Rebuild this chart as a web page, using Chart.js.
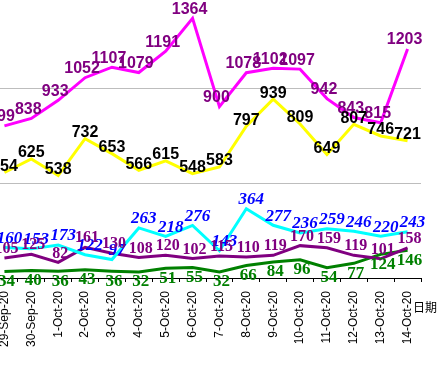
<!DOCTYPE html>
<html>
<head>
<meta charset="utf-8">
<script src="https://cdn.jsdelivr.net/npm/chart.js"></script>
<style>
  html, body { margin: 0; padding: 0; background: #fff; width: 445px; height: 366px; overflow: hidden; }
  #box { position: absolute; left: -9px; top: 0; width: 454px; height: 366px; }
</style>
</head>
<body>
<div id="box"><canvas id="myChart"></canvas></div>
<script>
const dates = ['29-Sep-20', '30-Sep-20', '1-Oct-20', '2-Oct-20', '3-Oct-20', '4-Oct-20', '5-Oct-20', '6-Oct-20',
  '7-Oct-20', '8-Oct-20', '9-Oct-20', '10-Oct-20', '11-Oct-20', '12-Oct-20', '13-Oct-20', '14-Oct-20'];
const pinkVals = [799, 838, 933, 1052, 1107, 1079, 1191, 1364, 900, 1078, 1102, 1097, 942, 843, 815, 1203];
const yellowVals = [554, 625, 538, 732, 653, 566, 615, 548, 583, 797, 939, 809, 649, 807, 746, 721];
const cyanVals = [160, 153, 173, 122, 97, 263, 218, 276, 143, 364, 277, 236, 259, 246, 220, 243];
const purpleVals = [105, 125, 82, 161, 130, 108, 120, 102, 115, 110, 119, 170, 159, 119, 101, 158];
const greenVals = [34, 40, 36, 43, 36, 32, 51, 55, 32, 66, 84, 96, 54, 77, 124, 146];
const gridValues = [500, 1000];
const axisTitle = '日期';

// horizontal gray lines at 500 / 1000
const hGrid = {
  id: 'hGrid',
  beforeDatasetsDraw(chart) {
    const ctx = chart.ctx;
    const a = chart.chartArea;
    const y = chart.scales.y;
    ctx.save();
    ctx.strokeStyle = '#bdbdbd';
    ctx.lineWidth = 1;
    gridValues.forEach(v => {
      const py = Math.round(y.getPixelForValue(v)) + 0.5;
      ctx.beginPath();
      ctx.moveTo(a.left, py);
      ctx.lineTo(a.right, py);
      ctx.stroke();
    });
    ctx.restore();
  }
};

// draws the number next to every point
const valueLabels = {
  id: 'valueLabels',
  afterDatasetsDraw(chart) {
    const ctx = chart.ctx;
    chart.data.datasets.forEach((ds, i) => {
      const meta = chart.getDatasetMeta(i);
      ctx.save();
      ctx.font = ds.labelFont;
      ctx.fillStyle = ds.labelColor;
      ctx.textAlign = 'center';
      ctx.textBaseline = 'middle';
      meta.data.forEach((pt, j) => {
        ctx.fillText(ds.data[j], pt.x + ds.labelDx, pt.y + ds.labelDy);
      });
      ctx.restore();
    });
  }
};

const sideTitle = {
  id: 'sideTitle',
  afterDraw(chart) {
    const ctx = chart.ctx;
    const a = chart.chartArea;
    ctx.save();
    ctx.font = '12px "Liberation Sans", "Noto Sans CJK SC"';
    ctx.fillStyle = '#000';
    ctx.textAlign = 'center';
    ctx.textBaseline = 'middle';
    ctx.fillText(axisTitle, a.right + 4, a.bottom + 31);
    ctx.restore();
  }
};

const ctx = document.getElementById('myChart');

new Chart(ctx, {
  type: 'line',
  data: {
    labels: dates,
    datasets: [
      {
        label: 'pink',
        data: pinkVals,
        borderColor: '#ff00ff',
        borderWidth: 3,
        labelFont: 'bold 16px "Liberation Sans"',
        labelColor: '#800080',
        labelDx: -3,
        labelDy: -9
      },
      {
        label: 'yellow',
        data: yellowVals,
        borderColor: '#ffff00',
        borderWidth: 3,
        labelFont: 'bold 16px "Liberation Sans"',
        labelColor: '#000000',
        labelDx: 0,
        labelDy: -6
      },
      {
        label: 'cyan',
        data: cyanVals,
        borderColor: '#00ffff',
        borderWidth: 3,
        labelFont: 'italic bold 17px "Liberation Serif"',
        labelColor: '#0000ff',
        labelDx: 5,
        labelDy: -9
      },
      {
        label: 'purple',
        data: purpleVals,
        borderColor: '#800080',
        borderWidth: 3,
        labelFont: 'bold 16px "Liberation Serif"',
        labelColor: '#800080',
        labelDx: 2,
        labelDy: -9
      },
      {
        label: 'green',
        data: greenVals,
        borderColor: '#008000',
        borderWidth: 3,
        labelFont: 'bold 17px "Liberation Serif"',
        labelColor: '#008000',
        labelDx: 2,
        labelDy: 10
      }
    ]
  },
  options: {
    maintainAspectRatio: false,
    responsive: true,
    animation: false,
    elements: {
      point: { radius: 0 },
      line: { tension: 0, fill: false }
    },
    layout: { padding: { left: 0, right: 24, top: 0, bottom: 0 } },
    plugins: {
      legend: { display: false },
      tooltip: { enabled: false }
    },
    scales: {
      x: {
        offset: true,
        grid: {
          offset: true,
          drawOnChartArea: false,
          drawTicks: true,
          tickLength: 4,
          tickColor: '#000'
        },
        border: { color: '#000', width: 1 },
        ticks: {
          autoSkip: false,
          minRotation: 90,
          maxRotation: 90,
          padding: 9,
          color: '#000',
          font: { family: '"Liberation Sans"', size: 12 }
        },
        afterFit(scale) { scale.height = 88; }
      },
      y: {
        type: 'linear',
        display: false,
        min: 0,
        max: 1460
      }
    }
  },
  plugins: [hGrid, valueLabels, sideTitle]
});
</script>
</body>
</html>
